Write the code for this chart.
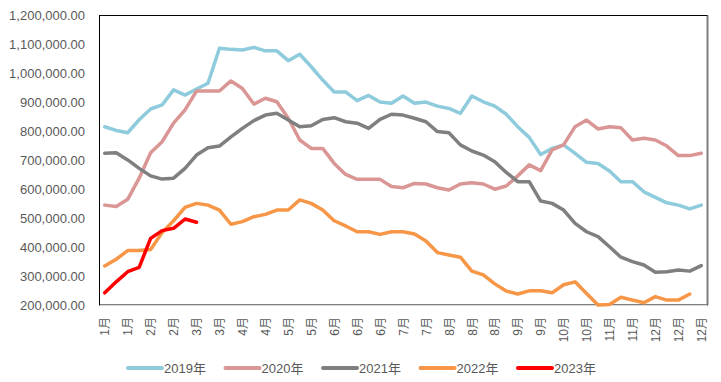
<!DOCTYPE html>
<html>
<head>
<meta charset="utf-8">
<script src="https://cdn.jsdelivr.net/npm/d3@7"></script>
<style>
  body { margin: 0; background: #fff; }
  svg text { font-family: "Liberation Sans", "Noto Sans CJK SC", sans-serif; fill: #595959; }
</style>
</head>
<body>
<div class="container"></div>
<script>
// week labels (53 weeks), only every other one is drawn
var weeks = [
  "1月", "1月", "1月", "1月", "2月", "2月", "2月", "2月", "3月", "3月", "3月", "3月",
  "4月", "4月", "4月", "4月", "5月", "5月", "5月", "5月", "6月", "6月", "6月", "6月",
  "6月", "6月", "7月", "7月", "7月", "7月", "8月", "8月", "8月", "8月", "8月", "8月",
  "9月", "9月", "9月", "9月", "10月", "10月", "10月", "10月", "11月", "11月", "11月", "11月",
  "12月", "12月", "12月", "12月", "12月"
];

var years = ["2019年", "2020年", "2021年", "2022年", "2023年"];
var colors = ["#8ecbdc", "#d99694", "#7f7f7f", "#f79646", "#ff0000"];

var s2019 = [815800, 803000, 795000, 840000, 877000, 891000, 943000, 925000, 946000, 966000,
  1087000, 1083000, 1081000, 1090000, 1078000, 1078000, 1044000, 1066000, 1023000, 977000,
  936000, 936000, 906000, 924000, 901000, 897000, 922000, 897000, 901000, 887000,
  879000, 862000, 922000, 902000, 887000, 859000, 816000, 779000, 720000, 741000,
  753000, 724000, 693000, 689000, 663000, 626000, 626000, 591000, 572000, 553000,
  545000, 532000, 545000];
var s2020 = [545000, 540000, 565000, 638000, 726000, 764000, 828000, 874000, 939000, 939000,
  939000, 974000, 948000, 894000, 914000, 902000, 845000, 770000, 741000, 741000,
  689000, 651000, 634000, 634000, 634000, 609000, 605000, 620000, 618000, 605000,
  597000, 618000, 622000, 618000, 600000, 611000, 646000, 684000, 664000, 736000,
  753000, 816000, 839000, 808000, 816000, 812000, 770000, 776000, 770000, 749000,
  716000, 716000, 724000];
var s2021 = [724000, 726000, 701000, 672000, 646000, 635000, 638000, 672000, 718000, 743000,
  749000, 781000, 810000, 837000, 856000, 862000, 839000, 816000, 819000, 841000,
  847000, 833000, 828000, 810000, 841000, 859000, 856000, 845000, 833000, 799000,
  795000, 753000, 732000, 718000, 695000, 658000, 626000, 626000, 559000, 551000,
  528000, 482000, 453000, 436000, 401000, 365000, 350000, 338000, 313000, 315000,
  321000, 317000, 336000];
var s2022 = [335000, 358000, 388000, 388000, 392000, 450000, 491000, 537000, 551000, 545000,
  528000, 479000, 488000, 505000, 513000, 528000, 528000, 563000, 551000, 528000,
  491000, 473000, 453000, 453000, 444000, 453000, 453000, 445000, 421000, 381000,
  373000, 365000, 317000, 304000, 273000, 248000, 238000, 249000, 249000, 242000,
  270000, 280000, 240000, 200000, 202000, 227000, 217000, 208000, 229000, 217000,
  217000, 238000];
var s2023 = [242000, 280000, 315000, 330000, 430000, 457000, 465000, 497000, 486000];

var yTicks = [200000, 300000, 400000, 500000, 600000, 700000, 800000, 900000, 1000000, 1100000, 1200000];

var series = [s2019, s2020, s2021, s2022, s2023];

var width = 721, height = 382;
var plot = { left: 99, right: 707, top: 15.5, bottom: 305 };

var svg = d3
  .select(".container")
  .append("svg")
  .attr("width", width)
  .attr("height", height);

var x = d3
  .scalePoint()
  .domain(d3.range(weeks.length))
  .range([plot.left, plot.right])
  .padding(0.5);

var y = d3
  .scaleLinear()
  .domain([200000, 1200000])
  .range([plot.bottom, plot.top]);

// plot frame
svg
  .append("rect")
  .attr("x", plot.left + 0.5)
  .attr("y", plot.top)
  .attr("width", plot.right - plot.left)
  .attr("height", plot.bottom - plot.top)
  .attr("fill", "none")
  .attr("stroke", "#000")
  .attr("stroke-width", 1);

svg
  .append("line")
  .attr("x1", plot.right + 0.5)
  .attr("x2", plot.right + 0.5)
  .attr("y1", plot.top)
  .attr("y2", plot.bottom)
  .attr("stroke", "#7f7f7f")
  .attr("stroke-width", 2);

svg
  .append("line")
  .attr("x1", plot.left + 1)
  .attr("x2", plot.right)
  .attr("y1", plot.bottom + 0.5)
  .attr("y2", plot.bottom + 0.5)
  .attr("stroke", "#d9d9d9")
  .attr("stroke-width", 1);

// y axis
var yAxis = d3
  .axisLeft(y)
  .tickValues(yTicks)
  .tickSize(0)
  .tickPadding(14)
  .tickFormat(d3.format(",.2f"));

var yG = svg
  .append("g")
  .attr("transform", `translate(${plot.left},0)`)
  .call(yAxis);
yG.select(".domain").remove();
yG.selectAll("text").style("font-size", "13px");

// x axis (every second week)
var xAxis = d3
  .axisBottom(x)
  .tickValues(d3.range(0, weeks.length, 2))
  .tickSize(0)
  .tickFormat(function (d) {
    return weeks[d];
  });

var xG = svg
  .append("g")
  .attr("transform", `translate(0,${plot.bottom})`)
  .call(xAxis);
xG.select(".domain").remove();
xG.selectAll("text")
  .attr("transform", "rotate(-90)")
  .attr("text-anchor", "end")
  .attr("x", -12)
  .attr("y", 0)
  .attr("dy", "0.35em")
  .style("font-size", "12px");

// lines
var line = d3
  .line()
  .x(function (d, i) { return x(i); })
  .y(function (d) { return y(d); });

series.forEach(function (s, k) {
  svg
    .append("path")
    .datum(s)
    .attr("fill", "none")
    .attr("stroke", colors[k])
    .attr("stroke-width", 3.5)
    .attr("stroke-linejoin", "round")
    .attr("stroke-linecap", "round")
    .attr("d", line);
});

// legend
var legend = svg
  .append("g")
  .selectAll("g")
  .data(years)
  .enter()
  .append("g")
  .attr("transform", function (d, i) {
    return `translate(${128 + i * 97.5},368)`;
  });

legend
  .append("line")
  .attr("x1", 0)
  .attr("x2", 34)
  .attr("stroke", function (d, i) { return colors[i]; })
  .attr("stroke-width", 4)
  .attr("stroke-linecap", "round");

legend
  .append("text")
  .attr("x", 36)
  .attr("dy", "0.35em")
  .style("font-size", "13px")
  .text(function (d) { return d; });
</script>
</body>
</html>
